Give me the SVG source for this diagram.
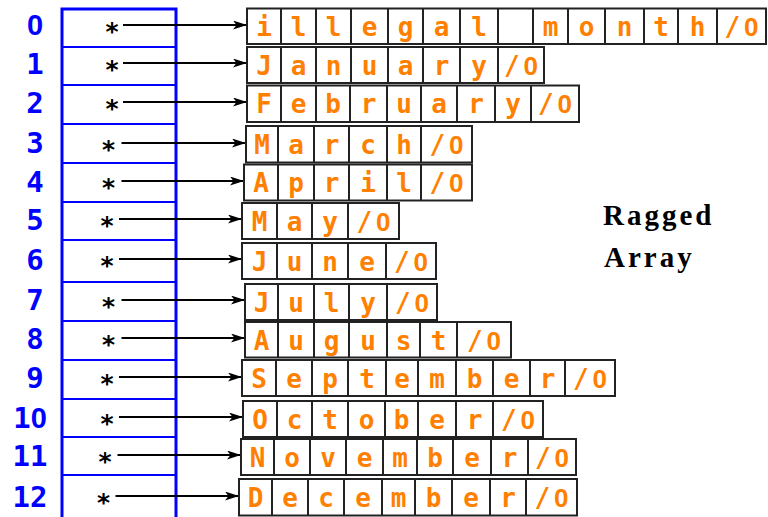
<svg xmlns="http://www.w3.org/2000/svg" width="768" height="517" viewBox="0 0 768 517">
<defs>
<style>
.idx{font-family:"DejaVu Sans Mono",monospace;font-weight:bold;font-size:29px;fill:#0000ff;text-anchor:middle}
.z{font-family:"Liberation Sans",Arial,sans-serif;font-weight:bold}
.star{font-family:"DejaVu Sans",sans-serif;font-weight:bold;font-size:25px;fill:#000;text-anchor:middle}
.ch{font-family:"DejaVu Sans Mono",monospace;font-weight:bold;font-size:26px;fill:#ff8000;text-anchor:middle}
.box{fill:#fff;stroke:#222;stroke-width:2}
.div{fill:none;stroke:#222;stroke-width:2}
.blue{fill:none;stroke:#0000ff;stroke-width:3}
.bsep{fill:none;stroke:#0000ff;stroke-width:2}
.conn{fill:none;stroke:#000;stroke-width:2;marker-end:url(#ah)}
.title{font-family:"Liberation Serif","DejaVu Serif",serif;font-weight:bold;font-size:29px;fill:#000;letter-spacing:3px}
</style>
<marker id="ah" markerUnits="userSpaceOnUse" markerWidth="14" markerHeight="9" refX="14" refY="4.5" orient="auto">
<path d="M0,0 L14,4.5 L0,9 L3.5,4.5 z" fill="#000"/>
</marker>
</defs>
<rect width="768" height="517" fill="#fff"/>

<g id="pointer-array">
<path class="blue" d="M62,517 V9 H176 V517"/>
<path class="bsep" d="M62,47H176M62,85H176M62,124H176M62,163H176M62,202H176M62,240H176M62,282H176M62,321H176M62,360H176M62,399H176M62,437H176M62,475H176"/>
<text class="idx" x="35" y="35"><tspan class="z">0</tspan></text>
<text class="idx" x="35" y="74">1</text>
<text class="idx" x="35" y="113">2</text>
<text class="idx" x="35" y="153">3</text>
<text class="idx" x="35" y="192">4</text>
<text class="idx" x="35" y="230">5</text>
<text class="idx" x="35" y="270">6</text>
<text class="idx" x="35" y="310">7</text>
<text class="idx" x="35" y="349">8</text>
<text class="idx" x="35" y="388">9</text>
<text class="idx" x="30" y="428">1<tspan class="z">0</tspan></text>
<text class="idx" x="30" y="466">11</text>
<text class="idx" x="30" y="507">12</text>
<text class="star" x="112" y="39.5">*</text>
<text class="star" x="112" y="77.5">*</text>
<text class="star" x="112" y="116.5">*</text>
<text class="star" x="108.5" y="157.5">*</text>
<text class="star" x="108.5" y="195.5">*</text>
<text class="star" x="107" y="233.5">*</text>
<text class="star" x="107" y="273.5">*</text>
<text class="star" x="108.5" y="314.5">*</text>
<text class="star" x="108.5" y="352.5">*</text>
<text class="star" x="107" y="391.5">*</text>
<text class="star" x="107" y="431.5">*</text>
<text class="star" x="105" y="469.5">*</text>
<text class="star" x="103.5" y="510.5">*</text>
</g>

<g id="connectors">
<line class="conn" x1="123" y1="25" x2="247" y2="25"/>
<line class="conn" x1="123" y1="63" x2="247" y2="63"/>
<line class="conn" x1="123" y1="102" x2="247" y2="102"/>
<line class="conn" x1="121.5" y1="143" x2="246" y2="143"/>
<line class="conn" x1="121.5" y1="181" x2="244" y2="181"/>
<line class="conn" x1="119" y1="219" x2="242" y2="219"/>
<line class="conn" x1="119" y1="259" x2="242" y2="259"/>
<line class="conn" x1="121.5" y1="300" x2="245" y2="300"/>
<line class="conn" x1="121.5" y1="338" x2="245" y2="338"/>
<line class="conn" x1="119" y1="377" x2="242" y2="377"/>
<line class="conn" x1="119" y1="417" x2="243" y2="417"/>
<line class="conn" x1="117.5" y1="455" x2="241" y2="455"/>
<line class="conn" x1="115.5" y1="496" x2="239" y2="496"/>
</g>

<g id="str-0">
<rect class="box" x="247" y="8.5" width="519" height="35.5"/>
<path class="div" d="M281,8.5V44M316,8.5V44M351,8.5V44M388,8.5V44M423,8.5V44M460,8.5V44M498,8.5V44M533,8.5V44M568,8.5V44M605,8.5V44M644,8.5V44M678,8.5V44M717,8.5V44"/>
<text class="ch" x="264" y="36">i</text><text class="ch" x="298.5" y="36">l</text><text class="ch" x="333.5" y="36">l</text><text class="ch" x="369.5" y="36">e</text><text class="ch" x="405.5" y="36">g</text><text class="ch" x="441.5" y="36">a</text><text class="ch" x="479" y="36">l</text><text class="ch" x="550.5" y="36">m</text><text class="ch" x="586.5" y="36">o</text><text class="ch" x="624.5" y="36">n</text><text class="ch" x="661" y="36">t</text><text class="ch" x="697.5" y="36">h</text><text class="ch" x="741.5" y="36">/<tspan class="z" dx="4">0</tspan></text>
</g>

<g id="str-1">
<rect class="box" x="247" y="47" width="297" height="36"/>
<path class="div" d="M281,47V83M316,47V83M351,47V83M388,47V83M423,47V83M460,47V83M498,47V83"/>
<text class="ch" x="264" y="74.5">J</text><text class="ch" x="298.5" y="74.5">a</text><text class="ch" x="333.5" y="74.5">n</text><text class="ch" x="369.5" y="74.5">u</text><text class="ch" x="405.5" y="74.5">a</text><text class="ch" x="441.5" y="74.5">r</text><text class="ch" x="479" y="74.5">y</text><text class="ch" x="521" y="74.5">/<tspan class="z" dx="4">0</tspan></text>
</g>

<g id="str-2">
<rect class="box" x="247" y="85.5" width="332" height="36.5"/>
<path class="div" d="M281,85.5V122M316,85.5V122M350,85.5V122M387,85.5V122M421,85.5V122M457,85.5V122M495,85.5V122M531,85.5V122"/>
<text class="ch" x="264" y="113">F</text><text class="ch" x="298.5" y="113">e</text><text class="ch" x="333" y="113">b</text><text class="ch" x="368.5" y="113">r</text><text class="ch" x="404" y="113">u</text><text class="ch" x="439" y="113">a</text><text class="ch" x="476" y="113">r</text><text class="ch" x="513" y="113">y</text><text class="ch" x="555" y="113">/<tspan class="z" dx="4">0</tspan></text>
</g>

<g id="str-3">
<rect class="box" x="246" y="126" width="226" height="36.5"/>
<path class="div" d="M278,126V162.5M314,126V162.5M349,126V162.5M387,126V162.5M421,126V162.5"/>
<text class="ch" x="262" y="153.5">M</text><text class="ch" x="296" y="153.5">a</text><text class="ch" x="331.5" y="153.5">r</text><text class="ch" x="368" y="153.5">c</text><text class="ch" x="404" y="153.5">h</text><text class="ch" x="446.5" y="153.5">/<tspan class="z" dx="4">0</tspan></text>
</g>

<g id="str-4">
<rect class="box" x="244" y="164.5" width="228" height="36"/>
<path class="div" d="M278,164.5V200.5M314,164.5V200.5M349,164.5V200.5M387,164.5V200.5M421,164.5V200.5"/>
<text class="ch" x="261" y="192">A</text><text class="ch" x="296" y="192">p</text><text class="ch" x="331.5" y="192">r</text><text class="ch" x="368" y="192">i</text><text class="ch" x="404" y="192">l</text><text class="ch" x="446.5" y="192">/<tspan class="z" dx="4">0</tspan></text>
</g>

<g id="str-5">
<rect class="box" x="242" y="203" width="157" height="36"/>
<path class="div" d="M277,203V239M312,203V239M348,203V239"/>
<text class="ch" x="259.5" y="230.5">M</text><text class="ch" x="294.5" y="230.5">a</text><text class="ch" x="330" y="230.5">y</text><text class="ch" x="373.5" y="230.5">/<tspan class="z" dx="4">0</tspan></text>
</g>

<g id="str-6">
<rect class="box" x="242" y="243" width="194" height="36"/>
<path class="div" d="M277,243V279M312,243V279M348,243V279M386,243V279"/>
<text class="ch" x="259.5" y="270.5">J</text><text class="ch" x="294.5" y="270.5">u</text><text class="ch" x="330" y="270.5">n</text><text class="ch" x="367" y="270.5">e</text><text class="ch" x="411" y="270.5">/<tspan class="z" dx="4">0</tspan></text>
</g>

<g id="str-7">
<rect class="box" x="245" y="284" width="192" height="36"/>
<path class="div" d="M278,284V320M314,284V320M349,284V320M387,284V320"/>
<text class="ch" x="261.5" y="311.5">J</text><text class="ch" x="296" y="311.5">u</text><text class="ch" x="331.5" y="311.5">l</text><text class="ch" x="368" y="311.5">y</text><text class="ch" x="412" y="311.5">/<tspan class="z" dx="4">0</tspan></text>
</g>

<g id="str-8">
<rect class="box" x="245" y="322" width="266" height="35.5"/>
<path class="div" d="M278,322V357.5M314,322V357.5M349,322V357.5M387,322V357.5M420,322V357.5M457,322V357.5"/>
<text class="ch" x="261.5" y="349.5">A</text><text class="ch" x="296" y="349.5">u</text><text class="ch" x="331.5" y="349.5">g</text><text class="ch" x="368" y="349.5">u</text><text class="ch" x="403.5" y="349.5">s</text><text class="ch" x="438.5" y="349.5">t</text><text class="ch" x="484" y="349.5">/<tspan class="z" dx="4">0</tspan></text>
</g>

<g id="str-9">
<rect class="box" x="242" y="360" width="373" height="36"/>
<path class="div" d="M276,360V396M312,360V396M348,360V396M386,360V396M418,360V396M456,360V396M493,360V396M530,360V396M565,360V396"/>
<text class="ch" x="259" y="387.5">S</text><text class="ch" x="294" y="387.5">e</text><text class="ch" x="330" y="387.5">p</text><text class="ch" x="367" y="387.5">t</text><text class="ch" x="402" y="387.5">e</text><text class="ch" x="437" y="387.5">m</text><text class="ch" x="474.5" y="387.5">b</text><text class="ch" x="511.5" y="387.5">e</text><text class="ch" x="547.5" y="387.5">r</text><text class="ch" x="590" y="387.5">/<tspan class="z" dx="4">0</tspan></text>
</g>

<g id="str-10">
<rect class="box" x="243" y="401" width="300" height="36"/>
<path class="div" d="M277,401V437M312,401V437M348,401V437M385,401V437M418,401V437M456,401V437M493,401V437"/>
<text class="ch" x="260" y="428.5">O</text><text class="ch" x="294.5" y="428.5">c</text><text class="ch" x="330" y="428.5">t</text><text class="ch" x="366.5" y="428.5">o</text><text class="ch" x="401.5" y="428.5">b</text><text class="ch" x="437" y="428.5">e</text><text class="ch" x="474.5" y="428.5">r</text><text class="ch" x="518" y="428.5">/<tspan class="z" dx="4">0</tspan></text>
</g>

<g id="str-11">
<rect class="box" x="241" y="439" width="335" height="36"/>
<path class="div" d="M274,439V475M310,439V475M346,439V475M383,439V475M417,439V475M453,439V475M491,439V475M528,439V475"/>
<text class="ch" x="257.5" y="466.5">N</text><text class="ch" x="292" y="466.5">o</text><text class="ch" x="328" y="466.5">v</text><text class="ch" x="364.5" y="466.5">e</text><text class="ch" x="400" y="466.5">m</text><text class="ch" x="435" y="466.5">b</text><text class="ch" x="472" y="466.5">e</text><text class="ch" x="509.5" y="466.5">r</text><text class="ch" x="552" y="466.5">/<tspan class="z" dx="4">0</tspan></text>
</g>

<g id="str-12">
<rect class="box" x="239" y="479" width="338" height="36.5"/>
<path class="div" d="M272,479V515.5M308,479V515.5M344,479V515.5M382,479V515.5M415,479V515.5M452,479V515.5M490,479V515.5M526,479V515.5"/>
<text class="ch" x="255.5" y="507">D</text><text class="ch" x="290" y="507">e</text><text class="ch" x="326" y="507">c</text><text class="ch" x="363" y="507">e</text><text class="ch" x="398.5" y="507">m</text><text class="ch" x="433.5" y="507">b</text><text class="ch" x="471" y="507">e</text><text class="ch" x="508" y="507">r</text><text class="ch" x="551.5" y="507">/<tspan class="z" dx="4">0</tspan></text>
</g>

<g id="title">
<text class="title" x="603" y="225">Ragged</text>
<text class="title" x="604" y="267">Array</text>
</g>
</svg>
